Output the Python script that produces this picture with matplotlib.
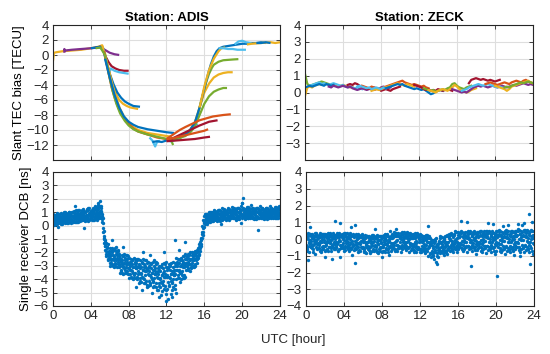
import numpy as np
import matplotlib
matplotlib.use("Agg")
import matplotlib.pyplot as plt

plt.rcParams['font.family'] = ['Liberation Sans', 'DejaVu Sans']

C_BLUE = '#0072BD'; C_OR = '#D95319'; C_YEL = '#EDB120'; C_PUR = '#7E2F8E'
C_GRN = '#77AC30'; C_LB = '#4DBEEE'; C_DR = '#A2142F'

xtick_vals = [0, 4, 8, 12, 16, 20, 24]
xtick_labels = ['0', '04', '08', '12', '16', '20', '24']
titles = ['Station: ADIS', 'Station: ZECK']
ylabel_top = 'Slant TEC bias [TECU]'
ylabel_bot = 'Single receiver DCB [ns]'
xlabel = 'UTC [hour]'

# ---------------- ADIS slant TEC bias arcs ----------------
adis_arcs = [
    (C_YEL, [0, 0.1, 0.5, 1, 2, 3, 4, 4.8, 5.2, 5.5, 5.8, 6.1, 6.4, 6.7, 7.0, 7.4, 7.8, 8.2, 8.6, 9.0],
            [-0.8, 0.3, 0.4, 0.5, 0.6, 0.7, 0.9, 1.1, 1.3, 0.2, -1.5, -3.0, -4.3, -5.3, -6.0, -6.5, -6.8, -7.0, -7.1, -7.2]),
    (C_PUR, [1.2, 1.2, 1.3, 2, 3, 4, 4.8, 5.2, 5.6, 6.0, 6.5, 7.0],
            [0.3, 0.8, 0.6, 0.7, 0.8, 0.9, 1.0, 0.9, 0.6, 0.3, 0.1, 0.0]),
    (C_DR, [4.5, 5.0, 5.3, 5.6, 5.9, 6.2, 6.6, 7.0, 7.5, 8.0],
           [1.0, 1.1, 0.6, -0.3, -1.0, -1.5, -1.8, -2.0, -2.1, -2.1]),
    (C_LB, [4.8, 5.3, 5.6, 5.8, 5.9, 6.1, 6.5, 7.0, 7.5, 8.0],
           [1.0, 0.9, -0.5, -1.5, -2.4, -1.8, -2.1, -2.3, -2.4, -2.5]),
    (C_BLUE, [4.0, 5.0, 5.3, 5.6, 6.0, 6.4, 6.8, 7.2, 7.6, 8.0, 8.5, 9.2],
             [0.9, 1.1, 0.8, -0.8, -2.5, -3.9, -5.0, -5.7, -6.2, -6.5, -6.8, -6.9]),
    (C_YEL, [5.2, 5.5, 5.9, 6.3, 6.7, 7.1, 7.5, 8.0, 8.5, 9.0, 10, 11, 12, 12.5],
            [1.2, 0.0, -2.0, -4.0, -5.8, -7.2, -8.2, -9.0, -9.6, -10.0, -10.4, -10.6, -10.8, -10.9]),
    (C_OR, [5.4, 5.8, 6.2, 6.6, 7.0, 7.5, 8.0, 8.5, 9.0, 10, 11, 12, 12.6],
           [0.5, -2.0, -4.3, -6.0, -7.3, -8.4, -9.2, -9.8, -10.2, -10.6, -11.0, -11.2, -11.1]),
    (C_GRN, [4.5, 5.0, 5.5, 5.9, 6.3, 6.7, 7.1, 7.6, 8.0, 8.5, 9.0, 9.5, 10, 11, 12, 12.5, 12.7],
            [0.9, 1.0, 0.0, -2.5, -4.8, -6.5, -7.8, -8.8, -9.4, -9.9, -10.2, -10.4, -10.6, -10.9, -11.2, -11.4, -12.0]),
    (C_BLUE, [5.5, 6.0, 6.5, 7.0, 7.5, 8.0, 8.5, 9.0, 10, 11, 12, 12.8],
             [-0.5, -3.0, -5.3, -7.0, -8.2, -8.9, -9.3, -9.6, -9.9, -10.1, -10.3, -10.4]),
    (C_LB, [10.2, 10.5, 10.8, 11.0, 11.3],
           [-11.0, -11.4, -12.2, -11.6, -11.4]),
    (C_BLUE, [10.5, 11, 11.5, 12, 12.5],
             [-11.6, -11.5, -11.6, -11.4, -11.5]),
    (C_LB, [12.5, 13, 13.5, 14, 14.4, 14.7, 15.0, 15.3],
           [-11.5, -11.3, -11.0, -10.6, -10.2, -9.8, -9.0, -9.4]),
    (C_GRN, [12.5, 13, 13.5, 14, 14.5, 15, 15.3, 15.6, 15.9, 16.2, 16.5, 16.8, 17.0, 17.5, 18, 19, 19.6],
            [-11.3, -11.2, -11.0, -10.6, -10.0, -9.0, -8.0, -6.5, -5.0, -3.6, -2.5, -1.7, -1.3, -0.9, -0.7, -0.6, -0.55]),
    (C_YEL, [13, 14, 14.5, 15, 15.5, 16, 16.5, 17, 17.5, 18, 18.5, 19.0],
            [-11, -10.5, -10, -9.0, -7.0, -5.0, -3.8, -3.0, -2.6, -2.4, -2.3, -2.3]),
    (C_GRN, [13, 14, 14.6, 15, 15.5, 16, 16.5, 17, 17.5, 18, 18.4],
            [-11.2, -10.8, -10.2, -9.5, -8.0, -6.5, -5.5, -4.9, -4.6, -4.4, -4.4]),
    (C_BLUE, [13, 14, 14.5, 15, 15.5, 15.8, 16.1, 16.4, 16.7, 17, 17.3, 17.6, 18, 18.5, 19, 19.5, 20, 20.5, 21, 21.5, 22, 22.5],
             [-11, -10.6, -10.0, -9.0, -7.0, -5.5, -4.0, -2.5, -1.2, -0.2, 0.5, 0.9, 1.1, 1.2, 1.3, 1.4, 1.5, 1.5, 1.6, 1.6, 1.7, 1.6]),
    (C_YEL, [15.5, 16, 16.5, 17, 17.5, 17.8, 18.2],
            [-7.0, -4.2, -2.0, -0.5, 0.5, 0.9, 1.0]),
    (C_LB, [17.5, 18, 18.5, 19, 19.5, 20.0, 20.4],
           [0.9, 0.9, 0.8, 0.8, 0.7, 0.7, 0.7]),
    (C_LB, [19.2, 19.6, 20.0, 20.4, 21],
           [1.4, 1.8, 1.9, 1.7, 1.6]),
    (C_YEL, [20.5, 21, 22, 23, 23.5, 24],
            [1.4, 1.5, 1.6, 1.7, 1.6, 1.7]),
    (C_BLUE, [21.5, 22, 22.5, 23],
             [1.6, 1.6, 1.7, 1.6]),
    (C_OR, [12, 12.7, 13.4, 14, 15, 15.5, 16.9, 18.0, 18.8],
           [-11.2, -10.6, -10.0, -9.6, -9.0, -8.7, -8.2, -8.0, -7.9]),
    (C_DR, [12.5, 13.5, 14.5, 15.5, 16.5, 17.4],
           [-11.2, -10.6, -10.0, -9.4, -8.9, -8.7]),
    (C_OR, [12, 13, 14, 15, 16, 16.4],
           [-11.3, -11.0, -10.7, -10.4, -10.1, -9.9]),
    (C_DR, [12, 13, 14, 15, 16, 16.6],
           [-11.5, -11.4, -11.3, -11.2, -11.0, -10.9]),
]

# ---------------- ZECK slant TEC bias arcs (0.25 h sampling) ----------------
zeck_step = 0.25
zeck_arcs = [
    (C_YEL, 0.0, [-0.2, 0.3, 0.35, 0.3, 0.4, 0.45, 0.5, 0.45, 0.55, 0.5, 0.45, 0.4, 0.45, 0.4, 0.35, 0.4, 0.45, 0.4, 0.35, 0.3, 0.35]),
    (C_GRN, 0.0, [1.1, 0.5, 0.4, 0.45, 0.5, 0.55, 0.6, 0.65, 0.6, 0.55, 0.5]),
    (C_LB, 0.5, [0.4, 0.45, 0.5, 0.55, 0.6, 0.5, 0.55, 0.5, 0.45, 0.5, 0.55, 0.5, 0.45, 0.4, 0.45, 0.35, 0.3, 0.35, 0.3, 0.25, 0.3, 0.25, 0.2]),
    (C_BLUE, 0.0, [0.3, 0.35, 0.4, 0.35, 0.4, 0.45, 0.5, 0.45, 0.4, 0.5, 0.45, 0.4, 0.45]),
    (C_PUR, 2.5, [0.35, 0.3, 0.4, 0.35, 0.3, 0.35, 0.4, 0.35, 0.3, 0.35, 0.25, 0.2, 0.15, 0.2, 0.25, 0.2, 0.15, 0.2, 0.25, 0.3, 0.25, 0.2, 0.3, 0.35, 0.3, 0.25, 0.3]),
    (C_DR, 4.5, [0.45, 0.5, 0.45, 0.55, 0.5, 0.4, 0.35, 0.3, 0.2, 0.25, 0.2, 0.15, 0.2, 0.25, 0.1, 0.15, 0.2, 0.15, 0.1, 0.2, 0.25, 0.3, 0.35]),
    (C_OR, 6.0, [0.4, 0.35, 0.3, 0.25, 0.35, 0.3, 0.25, 0.2, 0.25, 0.3, 0.35, 0.4, 0.45, 0.5, 0.55, 0.6, 0.65, 0.7, 0.6, 0.55, 0.5, 0.45, 0.5, 0.45, 0.4, 0.35, 0.4, 0.3, 0.25]),
    (C_YEL, 7.0, [0.1, 0.15, 0.2, 0.15, 0.2, 0.25, 0.3, 0.35, 0.4, 0.45, 0.5, 0.55, 0.5, 0.45, 0.4, 0.5, 0.45, 0.4, 0.35]),
    (C_LB, 5.5, [0.35, 0.4, 0.35, 0.3, 0.25, 0.3, 0.2, 0.25, 0.3, 0.25, 0.2, 0.3, 0.25]),
    (C_BLUE, 8.5, [0.25, 0.3, 0.35, 0.4, 0.45, 0.5, 0.45, 0.5, 0.4, 0.35, 0.3, 0.25, 0.2, 0.25, 0.2, 0.15, 0.2, 0.1, 0.0, -0.1, -0.05, 0.05, 0.1, 0.15, 0.1]),
    (C_DR, 11.5, [0.45, 0.4, 0.35, 0.3, 0.2, 0.15, 0.2, 0.1, 0.15, 0.1, 0.2, 0.15, 0.1, 0.15, 0.2, 0.15, 0.1]),
    (C_GRN, 12.5, [0.25, 0.2, 0.15, 0.1, 0.15, 0.05, 0.1, 0.15, 0.2, 0.15, 0.25, 0.3, 0.5, 0.55, 0.4, 0.3, 0.25, 0.2, 0.3, 0.35, 0.4]),
    (C_YEL, 13.0, [0.15, 0.1, 0.05, 0.0, 0.1, 0.15, 0.2, 0.15, 0.1, 0.2, 0.3, 0.45, 0.35, 0.2, 0.1, 0.05, 0.0, 0.05, 0.15, 0.2, 0.25]),
    (C_PUR, 15.5, [0.2, 0.15, 0.1, 0.05, 0.0, 0.05, 0.0, 0.1, 0.2, 0.3, 0.35, 0.4, 0.35, 0.4, 0.35, 0.3, 0.35, 0.4, 0.35, 0.3, 0.35, 0.4, 0.35, 0.3, 0.35, 0.4, 0.45, 0.4, 0.45, 0.5, 0.55, 0.5, 0.45, 0.5, 0.45]),
    (C_DR, 17.25, [0.55, 0.75, 0.8, 0.85, 0.8, 0.75, 0.8, 0.75, 0.7, 0.75, 0.7, 0.65, 0.7, 0.75]),
    (C_LB, 16.5, [0.1, 0.15, 0.2, 0.3, 0.35, 0.4, 0.45, 0.5, 0.45, 0.4, 0.45, 0.5, 0.45, 0.4, 0.35, 0.3, 0.35, 0.3, 0.25]),
    (C_OR, 19.0, [0.5, 0.55, 0.6, 0.55, 0.5, 0.45, 0.5, 0.55, 0.6, 0.55, 0.5, 0.6, 0.65, 0.7, 0.65, 0.6, 0.7, 0.75, 0.65, 0.6, 0.55]),
    (C_YEL, 20.0, [0.4, 0.35, 0.3, 0.25, 0.2, 0.1, 0.2, 0.35, 0.4, 0.45, 0.5, 0.55, 0.6, 0.65, 0.7, 0.6, 0.55]),
    (C_GRN, 21.0, [0.3, 0.35, 0.3, 0.4, 0.45, 0.5, 0.55, 0.6, 0.55, 0.6, 0.65, 0.6, 0.55]),
]

# ---------------- single receiver DCB (epochs every 0.1 h, 4 samples each) ----------------
dcb_step = 0.1
adis_p = [0.9, 0.3, 0.6, 0.15, 0.75, 0.45, 0.85, 0.2, 0.55, 0.7,
          0.3, 0.9, 0.55, 1.05, 0.4, 0.75, 0.2, 0.65, 0.95, 0.5,
          0.7, 0.3, 1.1, 0.55, 0.85, 0.25, 0.95, 0.6, 1.2, 0.4,
          0.95, 0.45, 1.25, 0.6, 0.35, 1.1, 0.8, 0.5, 1.3, 0.7,
          0.6, 1.2, 0.85, 0.45, 1.35, 0.7, 1.05, 0.5, 1.4, 0.9,
          1.8, 1.1, 0.9, 0.2, -0.4, -1.1, -1.3, -1.6, -1.4, -1.9,
          -1.7, -2.6, -2.0, -3.0, -1.8, -2.4, -2.9, -1.6, -2.2, -2.7,
          -2.1, -3.0, -2.5, -3.5, -2.3, -2.8, -3.3, -2.2, -2.7, -3.6,
          -2.4, -3.3, -2.8, -3.9, -2.6, -3.1, -3.7, -2.5, -3.0, -4.0,
          -2.5, -3.5, -3.0, -4.2, -2.7, -3.3, -4.0, -2.6, -3.2, -4.4,
          -2.7, -3.7, -3.1, -4.4, -2.8, -3.5, -4.2, -2.6, -3.4, -4.6,
          -2.8, -3.9, -3.3, -4.6, -3.0, -3.7, -4.4, -2.8, -3.6, -4.8,
          -2.7, -3.8, -3.2, -4.5, -2.9, -3.6, -4.3, -2.7, -3.5, -4.7,
          -2.4, -3.3, -2.8, -3.9, -2.5, -3.0, -3.7, -2.3, -2.9, -3.9,
          -2.1, -2.8, -2.4, -3.3, -2.1, -2.5, -3.1, -2.0, -2.4, -3.1,
          -1.9, -2.6, -1.8, -2.4, -1.4, -1.7, -0.9, -1.1, 0.0, 0.4,
          0.7, 0.1, 0.5, 0.9, 0.3, 0.8, 0.45, 1.0, 0.6, 0.35,
          0.4, 1.1, 0.7, 0.35, 0.95, 0.6, 1.15, 0.5, 0.85, 1.3,
          0.5, 1.2, 0.8, 0.45, 1.05, 0.7, 1.25, 0.6, 0.95, 1.4,
          0.55, 1.3, 0.85, 0.45, 1.1, 0.75, 1.35, 0.65, 1.0, 1.5,
          0.6, 2.05, 0.9, 0.5, 1.15, 0.8, 1.4, 0.7, 1.05, 1.55,
          0.55, 1.3, 0.9, 0.5, 1.15, 0.75, 1.35, 0.65, 1.0, 1.45,
          0.6, 1.3, 0.85, 0.5, 1.15, 0.8, 1.35, 0.65, 1.0, 1.45,
          0.6, 1.35, 0.9, 0.55, 1.2, 0.8, 1.4, 0.7, 1.05, 1.5]
adis_q = [0.4, 0.7, 0.1, 0.55, 0.3, 0.85, 0.25, 0.65, 0.95, 0.35,
          0.85, 0.45, 0.2, 0.7, 0.95, 0.3, 0.6, 1.05, 0.35, 0.8,
          0.45, 1.0, 0.6, 0.3, 1.15, 0.75, 0.5, 0.9, 0.35, 0.8,
          0.55, 1.15, 0.7, -0.2, 1.0, 0.4, 0.65, 1.2, 0.45, 0.9,
          1.1, 0.5, 1.3, 0.95, 0.6, 1.15, 0.4, 1.25, 0.75, 1.5,
          1.0, 1.5, 0.3, -0.5, -1.0, -1.5, -1.9, -2.2, -2.0, -2.4,
          -2.4, -1.9, -2.9, -2.2, -2.6, -1.7, -2.1, -3.1, -2.5, -1.9,
          -2.9, -2.4, -3.4, -2.6, -3.1, -2.1, -2.6, -3.5, -2.9, -2.3,
          -3.2, -2.7, -3.8, -2.9, -3.5, -2.4, -2.9, -3.9, -3.2, -2.6,
          -3.4, -2.9, -4.1, -3.1, -3.8, -2.5, -3.1, -4.3, -3.4, -2.8,
          -3.6, -3.0, -4.3, -3.2, -4.0, -2.7, -3.3, -4.5, -3.6, -2.9,
          -3.8, -3.2, -4.5, -3.4, -4.2, -2.9, -3.5, -4.7, -3.8, -3.1,
          -3.7, -3.1, -4.4, -3.3, -4.1, -2.8, -3.4, -4.6, -3.7, -3.0,
          -3.3, -2.7, -3.9, -2.8, -3.5, -2.4, -2.9, -3.9, -3.1, -2.5,
          -2.8, -2.3, -3.2, -2.4, -2.9, -2.0, -2.5, -3.1, -2.6, -2.1,
          -2.5, -2.0, -2.5, -1.7, -2.1, -1.2, -1.5, -0.6, -0.5, -0.1,
          0.2, 0.6, 0.85, 0.25, 0.7, 0.4, 1.0, 0.5, 0.9, 0.75,
          0.9, 0.5, 1.0, 0.75, 0.4, 1.15, 0.65, 0.95, 0.45, 0.7,
          1.0, 0.6, 1.1, 0.85, 0.5, 1.25, 0.75, 1.05, 0.55, 0.8,
          1.05, 0.6, 1.2, 0.9, 0.5, 1.3, 0.8, 1.1, 0.2, 0.85,
          1.7, 0.65, 1.25, 0.95, 0.55, 1.35, 0.85, 1.15, 0.6, 0.9,
          1.1, 0.6, 1.2, 0.9, 0.5, 1.3, -0.35, 1.1, 0.6, 0.85,
          1.05, 0.6, 1.25, 0.9, 0.55, 1.3, 0.8, 1.1, 0.6, 0.85,
          1.1, 0.65, 1.25, 0.95, 0.55, 1.35, 0.85, 1.15, 0.6, 0.9]
adis_r = [0.6, 0.05, 0.8, 0.35, 0.95, 0.2, 0.5, 0.9, 0.3, 0.15,
          0.55, 1.0, 0.75, 0.25, 0.6, 0.9, 0.45, 0.3, 0.7, 0.2,
          1.05, 0.65, 0.35, 0.9, 0.5, 1.1, 0.3, 0.75, 0.6, 1.0,
          1.2, 0.75, 0.4, 1.05, 0.8, 0.6, 1.3, 0.35, 0.95, 0.5,
          0.8, 1.0, 0.45, 1.2, 0.9, 0.55, 1.3, 0.85, 0.6, 1.1,
          0.6, 0.7, -0.2, -0.9, -1.5, -1.8, -2.3, -1.7, -2.6, -2.1,
          -3.0, -2.2, -1.7, -2.5, -3.1, -2.8, -1.9, -2.4, -2.9, -2.3,
          -3.5, -2.7, -2.2, -3.0, -3.6, -3.2, -2.4, -2.9, -3.4, -2.8,
          -3.9, -3.0, -2.5, -3.4, -4.0, -3.6, -2.7, -3.2, -3.8, -3.1,
          -4.3, -3.2, -2.6, -3.6, -4.8, -3.9, -2.9, -3.4, -4.1, -3.3,
          -4.5, -3.4, -2.8, -3.8, -5.0, -4.1, -3.0, -3.6, -4.3, -3.5,
          -4.8, -3.6, -3.0, -4.0, -5.2, -4.3, -3.2, -3.8, -4.5, -3.7,
          -4.7, -5.5, -2.9, -3.9, -5.1, -4.2, -3.1, -3.7, -4.4, -3.6,
          -4.0, -3.0, -2.5, -3.4, -4.2, -3.5, -2.6, -3.1, -3.7, -3.0,
          -3.3, -2.5, -2.1, -2.9, -3.4, -2.9, -2.2, -2.6, -3.0, -2.5,
          -2.9, -2.3, -2.0, -2.3, -1.6, -1.9, -1.0, -0.9, -0.2, 0.2,
          0.45, 0.8, 0.15, 0.6, 1.0, 0.55, 0.3, 0.75, 0.4, 1.05,
          1.15, 0.8, 0.45, 1.05, 0.6, 0.85, 0.35, 1.1, 0.75, 0.55,
          1.25, 0.9, 0.55, 1.15, 0.7, 0.95, 0.45, 1.2, 0.85, 0.65,
          1.3, 0.95, 0.6, 1.2, 0.75, 1.0, 0.5, 1.25, 0.9, 0.7,
          1.35, 1.0, 0.65, 1.25, 0.8, 1.05, 0.55, 1.3, 0.95, 0.75,
          1.3, 1.0, 0.6, 1.2, 0.75, 1.0, 0.55, 1.25, 0.9, 0.7,
          1.3, 0.95, 0.6, 1.2, 0.75, 1.05, 0.5, 1.25, 0.9, 0.7,
          1.35, 1.0, 0.65, 1.2, 0.8, 1.05, 0.55, 1.3, 0.95, 0.75]
adis_s = [0.2, 0.5, 0.45, 0.8, 0.1, 0.6, 0.7, 0.4, 0.15, 0.6,
          0.65, 0.25, 0.95, 0.5, 0.2, 0.55, 1.0, 0.8, 0.45, 1.05,
          0.3, 0.8, 0.95, 0.7, 0.25, 0.55, 1.15, 0.4, 0.85, 0.65,
          0.4, 0.9, 1.0, 0.5, 0.65, 1.25, 0.45, 0.85, 0.7, 1.1,
          0.45, 0.75, 1.05, 0.65, 1.45, 0.95, 0.7, 1.55, 1.0, 0.65,
          1.3, 0.5, 0.6, -1.3, -1.2, -2.1, -1.6, -2.5, -2.3, -2.8,
          -2.1, -2.8, -2.5, -1.8, -2.3, -3.0, -2.6, -2.0, -1.8, -3.1,
          -2.6, -3.3, -2.9, -2.3, -2.8, -3.5, -3.1, -2.5, -2.2, -3.2,
          -2.9, -3.6, -3.3, -2.6, -3.1, -3.9, -3.5, -2.8, -2.5, -3.6,
          -3.0, -3.9, -3.5, -2.8, -3.3, -4.3, -3.7, -3.0, -2.6, -4.6,
          -3.2, -4.1, -3.7, -2.9, -3.5, -4.6, -3.9, -3.2, -2.7, -4.8,
          -3.4, -4.3, -3.9, -3.1, -3.7, -4.9, -4.1, -3.4, -2.9, -5.1,
          -3.3, -4.2, -3.8, -3.0, -3.6, -4.8, -4.0, -3.3, -2.8, -5.0,
          -2.9, -3.7, -3.3, -2.6, -3.0, -4.0, -3.4, -2.7, -2.3, -3.8,
          -2.5, -3.0, -2.7, -2.2, -2.6, -3.2, -2.8, -2.3, -2.0, -3.0,
          -2.2, -2.8, -2.4, -1.9, -2.2, -1.4, -1.4, -0.5, -0.7, 0.3,
          0.9, 0.3, 0.65, 0.45, 0.5, 0.95, 0.7, 0.35, 1.05, 0.55,
          0.6, 0.95, 0.85, 0.5, 1.2, 0.4, 0.9, 0.7, 1.05, 0.9,
          0.7, 1.05, 0.95, 0.6, 1.3, 0.5, 1.0, 0.8, 1.15, 1.0,
          0.75, 1.1, 1.0, 0.65, 1.35, 0.55, 1.05, 0.85, 1.2, 1.65,
          0.8, 1.15, 1.05, 0.7, 1.4, 0.6, 1.1, 0.9, 1.25, 1.0,
          0.75, 1.1, 1.05, 0.65, 1.35, 0.55, 1.05, 0.85, 1.2, 0.95,
          0.75, 1.15, 1.0, 0.65, 1.35, 0.55, 1.05, 0.85, 1.2, 1.0,
          0.8, 1.15, 1.05, 0.7, 1.4, 0.6, 1.1, 0.9, 1.25, 1.0]
adis_extra_t = [5.35, 5.45, 6.2, 7.4, 9.5, 10.3, 11.7, 12.0, 12.6, 12.9, 14.0, 13.3, 11.2, 8.8, 2.3, 4.8, 0.5, 17.8]
adis_extra_v = [-0.8, -1.2, -1.1, -1.6, -2.0, -2.2, -2.0, -5.6, -5.3, -1.1, -1.2, -1.8, -5.3, -4.6, 1.5, 1.7, -0.1, 0.1]

zeck_p = [0.3, -0.5, 0.0, -0.75, 0.7, -0.3, 0.3, -0.6, -0.1, 0.2,
          -0.1, 0.3, -0.6, 0.1, -0.35, 0.25, -0.75, 0.0, -0.45, 0.3,
          0.15, -0.65, 0.3, -0.2, 0.0, -0.5, 0.25, -0.35, 0.35, -0.6,
          -0.3, 1.1, -0.5, 0.25, -0.7, 0.1, 0.95, -0.4, 0.3, -0.55,
          0.2, -0.4, -0.1, 0.35, -0.6, 0.05, -0.3, 0.7, -0.5, 0.15,
          -0.35, 0.2, 0.85, -0.6, 0.1, -0.25, 0.25, -0.7, -0.1, 0.3,
          0.1, -0.6, -0.2, -0.85, 0.2, -0.4, 0.15, -0.75, -0.25, 0.05,
          -0.2, 0.15, -0.7, 0.6, -0.45, 0.1, -0.85, -0.05, -0.55, 0.2,
          0.1, -0.7, 0.25, -0.3, -0.05, -0.6, 0.15, -0.45, 0.5, -0.7,
          -0.3, 0.3, -0.5, 0.2, -0.7, 0.6, -0.35, 0.35, -0.55, 0.1,
          0.25, -0.35, -0.05, 0.4, -0.55, 0.15, -0.2, 0.35, -0.45, 0.2,
          -0.35, 0.3, -0.55, 0.15, -0.75, 0.05, -0.25, 0.35, -0.6, 0.2,
          0.1, -0.6, -0.15, 0.2, -0.7, 0.0, -0.35, 0.25, -0.55, 0.05,
          -0.2, -0.9, -0.35, -0.05, -1.0, -0.2, -0.65, 0.05, -0.85, -0.3,
          -0.1, -0.7, -0.25, 0.1, -0.85, -0.05, -0.5, 0.2, -0.65, -0.15,
          0.2, -0.5, 0.0, 0.35, -0.65, 0.15, -0.3, 0.45, -0.5, 0.05,
          -0.25, 0.35, -0.45, 1.1, -0.6, 0.1, -0.2, 0.4, -0.5, 1.0,
          0.3, -0.4, 0.05, 0.45, -0.55, 0.2, -0.25, 0.5, -0.45, 0.15,
          -0.2, 0.4, -0.45, 0.25, -0.7, 0.15, -0.15, 0.5, -0.55, 0.3,
          0.35, -0.4, 0.95, 0.45, -0.6, 0.2, -0.2, 0.9, -0.5, 0.25,
          -0.2, 0.45, -0.5, 0.3, -0.7, 0.2, -0.1, 0.8, -0.6, 0.35,
          0.4, -0.45, 0.1, 0.85, -0.6, 0.25, -0.2, 0.5, -0.5, 0.2,
          -0.15, 0.5, -0.45, 0.9, -0.65, 0.3, -0.05, 0.85, -0.55, 0.95,
          0.4, -0.4, 0.15, 0.55, -0.6, 1.5, -0.15, 0.55, 1.0, 0.25]
zeck_q = [-0.35, 0.1, -1.25, -0.15, 0.3, -0.45, 0.05, -0.75, 0.2, -0.25,
          0.2, -0.55, 0.05, -0.3, -0.7, 0.35, -0.2, 0.15, -0.6, -0.05,
          -0.4, 0.2, -0.1, -0.7, 0.3, -0.25, -0.55, 0.1, -0.3, 0.25,
          0.25, -0.45, 0.1, -0.2, 0.35, -0.6, -0.1, 0.2, -0.35, 0.0,
          -0.55, 0.3, -0.25, -0.45, 0.1, -0.7, 0.35, -0.15, 0.25, -0.35,
          0.1, -1.45, -0.2, 0.25, -0.5, 0.05, -0.65, -0.3, 0.2, -0.55,
          -0.45, 0.0, -0.75, -0.3, 0.2, -0.55, -0.05, -0.85, 0.1, -0.35,
          0.05, -0.65, 0.1, -0.4, -0.8, 0.25, -0.3, -0.05, -0.7, -0.15,
          -0.5, 0.1, -0.2, -0.75, 0.25, -0.35, -0.6, 0.0, -0.4, 0.2,
          0.25, -0.5, 0.15, -0.2, 0.35, -0.65, -0.05, 0.2, -0.4, 0.05,
          -0.5, 0.3, -0.15, -0.4, 0.15, -0.65, 0.4, -0.1, 0.3, -0.3,
          0.2, -0.6, 0.05, -0.3, 0.35, -0.5, -0.1, 0.15, -0.45, 0.0,
          -0.6, 0.15, -0.4, -0.65, 0.05, -0.85, 0.25, -0.2, 0.8, -0.45,
          -0.85, -0.1, -0.7, -0.95, -0.25, -1.2, 0.0, -0.5, -1.5, -0.65,
          -0.6, 0.05, -0.5, -0.8, -0.1, -0.95, 0.15, -0.35, 0.25, -0.55,
          -0.45, 0.25, -0.35, -0.6, 0.1, -0.75, 0.3, -0.15, 0.4, -0.35,
          0.25, -0.5, 0.15, -0.3, 0.4, -0.65, -0.05, 0.25, -0.4, 0.05,
          -0.4, 0.35, -0.2, -1.6, 0.15, -0.7, 0.4, -0.05, 0.35, -0.3,
          0.3, -0.55, 0.15, -0.25, 0.45, -0.6, 0.0, 0.3, -0.4, 0.1,
          -0.4, 0.35, -0.15, -0.55, 0.2, -0.75, 0.45, -0.05, 0.35, -0.3,
          0.3, -2.2, 0.2, -0.3, 0.5, -0.6, 0.05, 0.35, -0.45, 0.1,
          -0.4, 0.3, -0.15, -0.65, 0.2, -0.8, 0.45, -0.05, 0.4, -0.3,
          0.35, -0.5, 0.25, -0.25, 0.55, -0.6, 0.1, 0.4, -0.4, 0.15,
          -0.35, 0.35, -0.1, -0.6, 0.25, -0.75, 0.5, 0.0, 0.45, -0.25]
zeck_r = [0.05, -0.7, 0.35, -0.4, -0.05, 0.2, -0.55, 0.1, -0.3, -0.9,
          -0.5, 0.0, -0.25, 0.25, -0.1, -0.65, 0.3, -0.4, 0.1, -1.1,
          0.3, -0.35, -0.6, 0.1, -0.45, 0.35, -0.05, -1.2, 0.2, -0.15,
          -0.6, 0.15, -0.3, 0.3, -0.05, -1.05, 0.25, -0.5, 0.05, 0.35,
          -0.05, -0.65, 0.2, 0.0, -0.35, 0.3, -0.55, 0.15, -0.95, 0.3,
          -0.65, -0.1, 0.3, -0.4, -0.8, 0.2, -0.15, 0.1, -0.45, 0.0,
          -0.1, -0.8, 0.25, -0.5, -0.2, 0.1, -0.65, 0.0, -0.4, -0.7,
          -0.6, -0.1, -0.35, 0.15, -0.2, -0.75, 0.2, -0.5, 0.0, -1.05,
          0.2, -0.45, -0.7, 0.05, -0.55, 0.3, -0.15, -0.95, 0.1, -0.25,
          -0.6, 0.1, -0.35, 0.3, -0.1, -0.7, 0.25, -0.5, 0.1, 0.35,
          0.0, -0.6, 0.3, 0.05, -0.3, 0.35, -0.5, 0.2, -0.8, 0.35,
          -0.65, 0.05, -0.4, 0.25, -0.15, -0.75, 0.3, -0.55, 0.1, 0.3,
          -0.1, -0.75, 0.2, -0.1, -0.45, 0.2, -0.65, 0.05, -1.0, 0.15,
          -0.3, -1.05, -0.05, -0.4, -0.75, -0.1, -1.35, -0.3, -1.1, -0.15,
          -0.15, -0.85, 0.1, -0.3, -0.6, 0.05, -0.75, -0.2, -0.9, 0.2,
          0.05, -0.7, 0.3, -0.1, -0.4, 0.25, -0.6, 0.0, -0.8, 0.4,
          -0.6, 0.1, -0.3, 0.35, -0.1, -0.7, 0.3, -0.45, 0.15, 0.4,
          0.1, -0.6, 0.35, -0.05, -0.35, 0.3, -0.55, 0.05, -0.9, 0.4,
          -0.65, 0.15, -0.3, 0.4, -0.05, -0.75, 0.35, -0.4, 0.2, 0.45,
          0.15, -0.65, 0.4, 0.0, -0.35, 0.35, -0.55, 0.1, -0.9, 0.45,
          -0.7, 0.1, -0.25, 0.45, -0.05, -0.8, 0.4, -0.4, 0.2, 0.5,
          0.1, -0.7, 0.45, 0.0, -0.4, 0.35, -0.6, 0.15, -0.95, 0.5,
          -0.6, 0.2, -0.2, 0.5, 0.0, -0.75, 0.45, -0.35, 0.25, 0.55,
          0.15, -0.65, 0.5, 0.05, -0.35, -1.5, -0.55, 0.2, -0.9, 0.5]
zeck_s = [-0.6, 0.15, -0.25, 0.3, -0.5, -0.1, 0.25, -0.35, 0.0, 0.35,
          0.35, -0.3, 0.2, -0.55, 0.1, -0.2, -0.5, 0.3, -0.15, -0.7,
          -0.25, 0.05, 0.35, -0.5, -0.15, 0.2, -0.7, 0.0, -0.45, 0.1,
          0.0, -0.2, 0.35, -0.65, 0.2, -0.35, -0.55, 0.1, -0.25, -0.7,
          0.35, 0.1, -0.5, -0.2, 0.25, -0.45, 0.0, -0.6, -0.1, -0.3,
          0.25, -0.55, -0.3, 0.0, 0.3, -0.7, 0.1, -0.45, 0.25, -0.2,
          -0.7, 0.05, -0.35, 0.2, -0.6, -0.15, 0.1, -0.5, -0.1, 0.25,
          0.25, -0.4, 0.05, -0.65, 0.0, -0.3, -0.6, 0.2, -0.25, -0.8,
          -0.35, -0.05, 0.3, -0.6, -0.25, 0.15, -0.75, -0.1, -0.5, 0.05,
          0.05, -0.25, 0.4, -0.6, 0.2, -0.35, -0.55, 0.15, -0.2, -0.75,
          0.4, 0.1, -0.45, -0.15, 0.3, -0.4, 0.05, -0.55, 0.0, -0.25,
          0.05, -0.3, 0.3, -0.65, 0.15, -0.4, -0.6, 0.1, -0.2, -0.8,
          0.25, 0.0, -0.6, -0.3, 0.15, -0.55, -0.05, -0.7, -0.15, -0.4,
          0.05, -0.25, -0.85, -0.55, -0.1, -0.8, -0.4, -1.0, -0.45, -0.75,
          0.15, -0.2, -0.7, -0.4, 0.0, -0.65, -0.25, -0.8, -0.35, -0.6,
          0.3, -0.05, -0.55, -0.25, 0.15, -0.45, -0.05, -0.6, -0.2, -0.4,
          0.1, -0.25, 0.45, -0.55, 0.2, -0.35, -0.6, 0.1, -0.15, -0.75,
          0.45, 0.0, -0.5, -0.2, 0.25, -0.4, 0.05, -0.65, -0.1, -0.35,
          0.1, -0.2, 0.5, -0.5, 0.25, -0.3, -0.6, 0.15, -0.1, -0.85,
          0.5, 0.05, -0.5, -0.15, 0.3, -0.45, 0.05, -0.7, 0.0, -0.35,
          0.15, -0.25, 0.55, -0.55, 0.25, -0.3, -0.65, 0.1, -0.1, -0.9,
          0.55, 0.05, -0.55, -0.2, 0.3, -0.45, 0.1, -0.7, 0.0, -0.35,
          0.2, -0.2, 0.6, -0.5, 0.3, -1.0, -0.6, 0.15, -0.05, -0.8,
          0.55, 0.1, -0.5, -0.15, 0.35, -0.4, 0.15, -0.7, 0.05, -0.3]

# ---------------- figure ----------------
W, H = 550, 354
fig = plt.figure(figsize=(W / 100, H / 100), dpi=100)

def px_axes(l, t, r, b):
    return fig.add_axes([l / W, 1 - b / H, (r - l) / W, (b - t) / H])

ax_tl = px_axes(53, 25, 280, 160)
ax_tr = px_axes(305, 25, 533, 160)
ax_bl = px_axes(53, 172, 280, 306)
ax_br = px_axes(306, 172, 534, 306)

FS = 9.5
for ax in (ax_tl, ax_tr, ax_bl, ax_br):
    ax.set_xlim(0, 24)
    ax.set_xticks(xtick_vals)
    ax.grid(True, color='#dedede', linewidth=0.8)
    ax.set_axisbelow(True)
    ax.tick_params(direction='in', length=3, width=0.6, colors='#262626',
                   labelsize=FS, top=True, right=True, pad=3)
    for s in ax.spines.values():
        s.set_color('#262626')
        s.set_linewidth(0.8)

for ax in (ax_tl, ax_tr):
    ax.set_xticklabels([])
for ax in (ax_bl, ax_br):
    ax.set_xticklabels(xtick_labels)

# top-left
for col, t, v in adis_arcs:
    ax_tl.plot(t, v, color=col, lw=1.6, solid_capstyle='butt')
ax_tl.set_ylim(-14, 4)
ax_tl.set_yticks(np.arange(-12, 5, 2))
ax_tl.set_title(titles[0], fontsize=FS, fontweight='bold', pad=3)
ax_tl.set_ylabel(ylabel_top, fontsize=FS, labelpad=1)

# top-right
for col, t0, v in zeck_arcs:
    t = t0 + zeck_step * np.arange(len(v))
    ax_tr.plot(t, v, color=col, lw=1.6)
ax_tr.set_ylim(-4, 4)
ax_tr.set_yticks(np.arange(-3, 5, 1))
ax_tr.set_title(titles[1], fontsize=FS, fontweight='bold', pad=3)

MS = 6
# bottom-left
t_ep = dcb_step * np.arange(len(adis_p))
for k, arr in enumerate((adis_p, adis_q, adis_r, adis_s)):
    ax_bl.scatter(t_ep + 0.025 * k, arr, s=MS, color=C_BLUE, linewidths=0)
ax_bl.scatter(adis_extra_t, adis_extra_v, s=MS, color=C_BLUE, linewidths=0)
ax_bl.set_ylim(-6, 4)
ax_bl.set_yticks(np.arange(-6, 5, 1))
ax_bl.set_ylabel(ylabel_bot, fontsize=FS, labelpad=1)

# bottom-right
t_ep2 = dcb_step * np.arange(len(zeck_p))
for k, arr in enumerate((zeck_p, zeck_q, zeck_r, zeck_s)):
    ax_br.scatter(t_ep2 + 0.025 * k, arr, s=MS, color=C_BLUE, linewidths=0)
ax_br.set_ylim(-4, 4)
ax_br.set_yticks(np.arange(-4, 5, 1))

fig.text(293 / W, 1 - 340 / H, xlabel, fontsize=FS, ha='center', va='center', color='#262626')

fig.savefig('out.png', dpi=100)
